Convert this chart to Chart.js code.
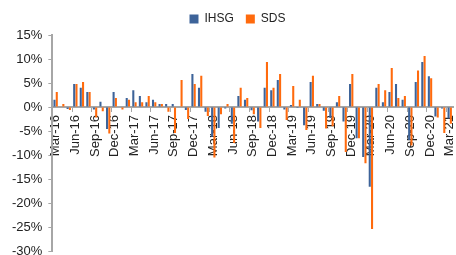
<!DOCTYPE html>
<html>
<head>
<meta charset="utf-8">
<script src="https://cdn.jsdelivr.net/npm/chart.js@4"></script>
<style>
  html, body { margin: 0; padding: 0; background: #fff; }
  #wrap { width: 456px; height: 255px; }
</style>
</head>
<body>
<div id="wrap"><canvas id="myChart" width="456" height="255"></canvas></div>
<script>
// monthly returns, %
var months = ['Mar-16','Apr-16','May-16','Jun-16','Jul-16','Aug-16','Sep-16','Oct-16','Nov-16','Dec-16',
  'Jan-17','Feb-17','Mar-17','Apr-17','May-17','Jun-17','Jul-17','Aug-17','Sep-17','Oct-17','Nov-17','Dec-17',
  'Jan-18','Feb-18','Mar-18','Apr-18','May-18','Jun-18','Jul-18','Aug-18','Sep-18','Oct-18','Nov-18','Dec-18',
  'Jan-19','Feb-19','Mar-19','Apr-19','May-19','Jun-19','Jul-19','Aug-19','Sep-19','Oct-19','Nov-19','Dec-19',
  'Jan-20','Feb-20','Mar-20','Apr-20','May-20','Jun-20','Jul-20','Aug-20','Sep-20','Oct-20','Nov-20','Dec-20',
  'Jan-21','Feb-21','Mar-21'];

var ihsg = [1.5, 0.0, -0.4, 4.8, 4.0, 3.1, -0.5, 1.1, -4.6, 3.1,
  0.0, 1.9, 3.5, 2.3, 1.0, 1.5, 0.6, 0.6, 0.6, 0.0, -0.6, 6.9,
  4.0, -1.0, -6.2, -4.4, -0.3, -3.5, 2.3, 1.5, -0.7, -3.0, 4.0, 3.5,
  5.6, -0.5, 0.4, -0.2, -3.8, 5.2, 0.6, -0.8, -2.3, 1.0, -3.0, 4.8,
  -6.5, -10.4, -16.6, 4.0, 1.0, 3.1, 4.8, 1.5, -6.9, 5.2, 9.4, 6.4,
  -2.0, -0.3, -2.4];

var sds = [3.1, 0.6, -0.6, 4.8, 5.2, 3.1, -2.2, -0.9, -5.5, 1.9,
  -0.5, 1.5, 1.0, 1.0, 2.3, 1.0, 0.6, -1.0, -5.4, 5.6, -2.5, 4.8,
  6.5, -1.9, -10.5, -1.5, 0.6, -7.5, 4.0, 1.9, -1.5, -4.4, 9.4, 4.0,
  6.9, -2.7, 4.4, 1.5, -4.8, 6.5, 0.6, -4.5, -4.0, 2.3, -9.4, 6.9,
  -6.5, -11.7, -25.4, 4.8, 3.5, 8.1, 1.9, 2.3, -8.0, 7.6, 10.6, 6.0,
  -2.2, -5.4, -3.5];

var yTicks = [-30, -25, -20, -15, -10, -5, 0, 5, 10, 15];

var axisGrey = '#a6a6a6';
var fontFam = "'Liberation Sans', Arial, sans-serif";

// nudge the legend a bit to the right, like the original
var legendShift = {
  id: 'legendShift',
  afterLayout: function(chart) {
    chart.legend.left += 8;
    chart.legend.right += 8;
  }
};

var ctx = document.getElementById('myChart').getContext('2d');
var chart = new Chart(ctx, {
  type: 'bar',
  data: {
    labels: months,
    datasets: [{
      label: 'IHSG',
      data: ihsg,
      backgroundColor: '#3d6399',
      borderWidth: 0,
      categoryPercentage: 0.7,
      barPercentage: 0.9
    }, {
      label: 'SDS',
      data: sds,
      backgroundColor: '#ff6a0d',
      borderWidth: 0,
      categoryPercentage: 0.7,
      barPercentage: 0.9
    }]
  },
  options: {
    responsive: false,
    animation: false,
    layout: { padding: { left: 6, right: 3, top: 1, bottom: 0 } },
    plugins: {
      legend: {
        position: 'top',
        labels: {
          boxWidth: 9,
          boxHeight: 9,
          padding: 12,
          color: '#222',
          font: { family: fontFam, size: 12 }
        }
      },
      tooltip: { enabled: false }
    },
    scales: {
      x: {
        position: { y: 0 },
        grid: {
          display: true,
          drawOnChartArea: false,
          drawTicks: true,
          tickLength: 4,
          color: function(c) { return c.index % 3 === 0 ? axisGrey : 'rgba(0,0,0,0)'; }
        },
        border: { display: true, color: axisGrey, width: 2 },
        ticks: {
          autoSkip: false,
          minRotation: 90,
          maxRotation: 90,
          padding: 4,
          color: '#222',
          font: { family: fontFam, size: 13 },
          callback: function(v, i) { return i % 3 === 0 ? months[i] : ''; }
        },
        afterFit: function(s) { s.paddingLeft = 0; s.paddingRight = 0; }
      },
      y: {
        min: yTicks[0],
        max: yTicks[yTicks.length - 1],
        afterBuildTicks: function(s) { s.ticks = yTicks.map(function(v) { return { value: v }; }); },
        afterFit: function(s) { s.paddingBottom = 4; },
        grid: {
          display: true,
          drawOnChartArea: false,
          drawTicks: true,
          tickLength: 4,
          color: axisGrey
        },
        border: { display: true, color: axisGrey, width: 2 },
        ticks: {
          padding: 6,
          color: '#222',
          font: { family: fontFam, size: 13, lineHeight: 1.0 },
          callback: function(v) { return v + '%'; }
        }
      }
    }
  },
  plugins: [legendShift]
});
</script>
</body>
</html>
